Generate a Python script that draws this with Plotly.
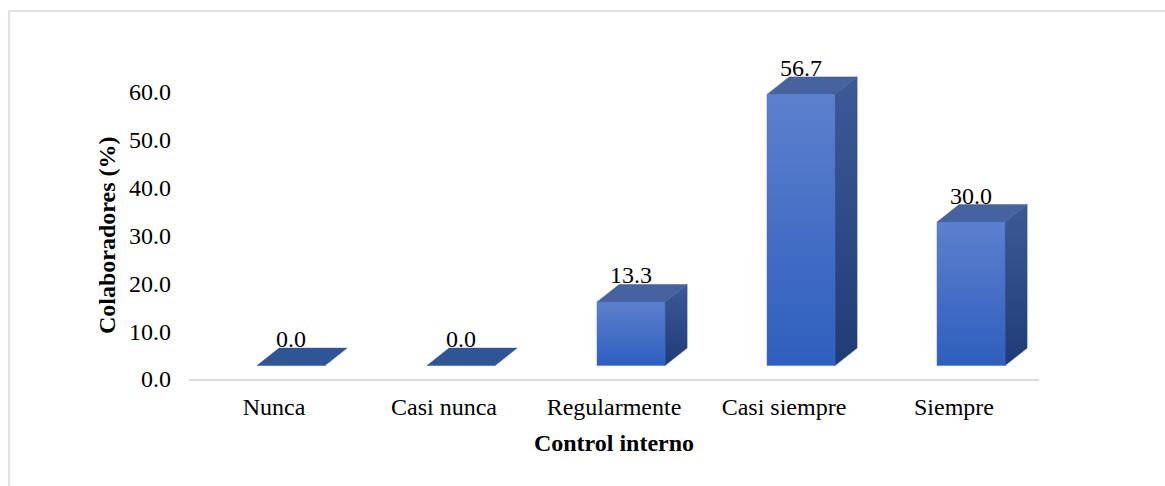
import plotly.graph_objects as go

categories = ["Nunca", "Casi nunca", "Regularmente", "Casi siempre", "Siempre"]
values = [0.0, 0.0, 13.3, 56.7, 30.0]
y_ticks = [0, 10, 20, 30, 40, 50, 60]

# 3D styling parameters (axis units)
FLOOR = 2.8      # raise of the front face above the axis line
OFFSET = 0.10    # shift of bar front to the right of category centre
HALF = 0.20      # half width of front face
DX = 0.13        # depth offset in x (category units)
DY = 3.66        # depth offset in y (value units)

FONT = "Liberation Serif, Times New Roman, serif"
FS = 24

fig = go.Figure()

for i, v in enumerate(values):
    x0, x1 = i + OFFSET - HALF, i + OFFSET + HALF
    yb, yt = FLOOR, FLOOR + v
    # side face
    if v > 0:
        fig.add_trace(go.Scatter(
            x=[x1, x1 + DX, x1 + DX, x1, x1],
            y=[yb, yb + DY, yt + DY, yt, yb],
            fill="toself", mode="lines", line=dict(width=0.5, color="#2A4A88"),
            fillgradient=dict(type="vertical",
                              colorscale=[[0, "#1F3C78"], [1, "#3E5A96"]]),
            hoverinfo="skip", showlegend=False))
    # top face
    top_col = "#46639F" if v > 0 else "#2F5597"
    fig.add_trace(go.Scatter(
        x=[x0, x1, x1 + DX, x0 + DX, x0],
        y=[yt, yt, yt + DY, yt + DY, yt],
        fill="toself", mode="lines", line=dict(width=0.5, color=top_col),
        fillcolor=top_col, hoverinfo="skip", showlegend=False))
    # front face
    if v > 0:
        fig.add_trace(go.Scatter(
            x=[x0, x1, x1, x0, x0],
            y=[yb, yb, yt, yt, yb],
            fill="toself", mode="lines", line=dict(width=0.5, color="#4A72C6"),
            fillgradient=dict(type="vertical",
                              colorscale=[[0, "#2E5EBE"], [1, "#5C80CD"]]),
            hoverinfo="skip", showlegend=False))
    fig.add_annotation(x=i + OFFSET, y=yt + DY, text=f"{v:.1f}", showarrow=False,
                       xanchor="center", yanchor="bottom", yshift=-6,
                       font=dict(family=FONT, size=FS, color="#000000"))

# y-axis title placed as in the reference
fig.add_annotation(xref="paper", yref="paper", x=-0.0965, y=0.4514,
                   text="<b>Colaboradores (%)</b>", textangle=-90, showarrow=False,
                   xanchor="center", yanchor="middle",
                   font=dict(family=FONT, size=FS, color="#000000"))

# outer chart border (left and top visible)
fig.add_shape(type="rect", xref="paper", yref="paper",
              x0=-0.2118, x1=1.3, y0=-0.5, y1=1.1536,
              line=dict(color="#DDE1E8", width=2), layer="below")

fig.update_layout(
    width=1165, height=486,
    margin=dict(l=189, r=126, t=60, b=107),
    paper_bgcolor="white", plot_bgcolor="white",
    font=dict(family=FONT, size=FS, color="#000000"),
    hovermode=False, showlegend=False,
    xaxis=dict(range=[-0.5, 4.5], tickmode="array",
               tickvals=list(range(len(categories))), ticktext=categories,
               showline=True, linecolor="#D9DCE3", linewidth=2,
               showgrid=False, zeroline=False, ticks="", ticklabelstandoff=5,
               title=dict(text="<b>Control interno</b>", standoff=15,
                          font=dict(family=FONT, size=FS))),
    yaxis=dict(range=[0, 66.69], tickmode="array", tickvals=y_ticks,
               tickformat=".1f", showline=False, showgrid=False, zeroline=False,
               ticks="", ticklabelstandoff=17),
)

fig.write_html("out.html")
